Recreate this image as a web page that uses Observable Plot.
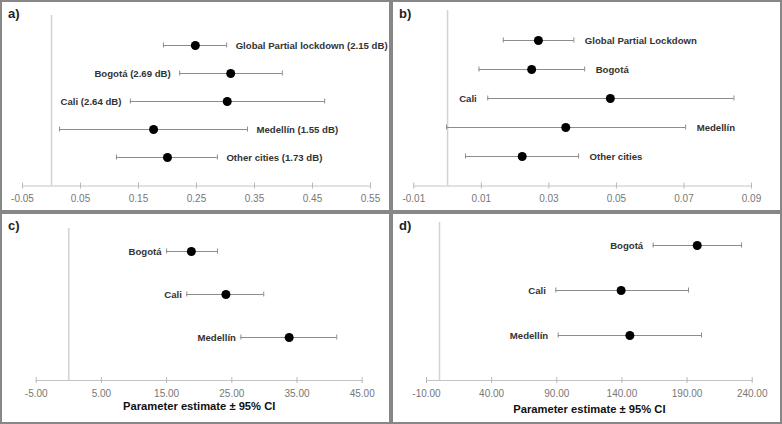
<!DOCTYPE html>
<html>
<head>
<meta charset="utf-8">
<script src="https://cdn.jsdelivr.net/npm/d3@7"></script>
<script src="https://cdn.jsdelivr.net/npm/@observablehq/plot@0.6"></script>
<style>
  html, body { margin: 0; padding: 0; background: #fff; }
  #wrap { position: relative; width: 782px; height: 424px; font-family: "Liberation Sans", Arial, sans-serif; }
  .cell { position: absolute; }
  .cell svg { position: absolute; left: 0; top: 0; }
  .border { position: absolute; box-sizing: border-box; border: 2px solid #878787; pointer-events: none; }
  .tag { position: absolute; left: 8px; top: 7px; font-weight: bold; font-size: 13px; color: #222; line-height: 1; }
</style>
</head>
<body>
<div id="wrap"></div>
<script>
// ---- Data ----
// Panel a
const aLabels = ["Global Partial lockdown (2.15 dB)", "Bogotá (2.69 dB)", "Cali (2.64 dB)", "Medellín (1.55 dB)", "Other cities (1.73 dB)"];
const aEst = [0.248, 0.309, 0.303, 0.176, 0.200];
const aLo  = [0.193, 0.221, 0.136, 0.014, 0.112];
const aHi  = [0.302, 0.398, 0.471, 0.338, 0.286];
const aTicks = [-0.05, 0.05, 0.15, 0.25, 0.35, 0.45, 0.55];
const aLeftLabeled = ["Bogotá (2.69 dB)", "Cali (2.64 dB)"];

// Panel b
const bLabels = ["Global Partial Lockdown", "Bogotá", "Cali", "Medellín", "Other cities"];
const bEst = [0.0269, 0.0249, 0.0482, 0.0350, 0.0221];
const bLo  = [0.0165, 0.0093, 0.0119, -0.0003, 0.0053];
const bHi  = [0.0374, 0.0406, 0.0848, 0.0705, 0.0388];
const bTicks = [-0.01, 0.01, 0.03, 0.05, 0.07, 0.09];
const bLeftLabeled = ["Cali"];

// Panel c
const cLabels = ["Bogotá", "Cali", "Medellín"];
const cEst = [18.8, 24.1, 33.8];
const cLo  = [15.0, 18.1, 26.4];
const cHi  = [22.8, 29.9, 41.1];
const cTicks = [-5, 5, 15, 25, 35, 45];
const cLeftLabeled = ["Bogotá", "Cali", "Medellín"];

// Panel d
const dLabels = ["Bogotá", "Cali", "Medellín"];
const dEst = [197.8, 139.4, 146.1];
const dLo  = [164.0, 89.3, 91.1];
const dHi  = [231.8, 191.1, 201.1];
const dTicks = [-10, 40, 90, 140, 190, 240];
const dLeftLabeled = ["Bogotá", "Cali", "Medellín"];

const axisTitle = "Parameter estimate ± 95% CI";

// ---- Layout ----
const W = 391, H = 212;
const panels = [
  {tag: "a)", left: 0, top: 0, labels: aLabels, est: aEst, lo: aLo, hi: aHi, ticks: aTicks, leftLabeled: aLeftLabeled,
   mt: 15, mb: 26.5, ml: 22, mr: 21, yRange: [44, 157], dx: 9, title: false},
  {tag: "b)", left: 391, top: 0, labels: bLabels, est: bEst, lo: bLo, hi: bHi, ticks: bTicks, leftLabeled: bLeftLabeled,
   mt: 10, mb: 26.5, ml: 22.3, mr: 31, yRange: [39, 156], dx: 11, title: false},
  {tag: "c)", left: 0, top: 212, labels: cLabels, est: cEst, lo: cLo, hi: cHi, ticks: cTicks, leftLabeled: cLeftLabeled,
   mt: 16, mb: 44, ml: 35.7, mr: 29.3, yRange: [38, 125], dx: 5, title: true, titleDy: 29},
  {tag: "d)", left: 391, top: 212, labels: dLabels, est: dEst, lo: dLo, hi: dHi, ticks: dTicks, leftLabeled: dLeftLabeled,
   mt: 10, mb: 44, ml: 35, mr: 30.3, yRange: [33, 123], dx: 10, title: true, titleDy: 32}
];

const wrap = document.getElementById("wrap");

for (const p of panels) {
  const rows = p.labels.map((label, i) => ({label, est: p.est[i], lo: p.lo[i], hi: p.hi[i], left: p.leftLabeled.includes(label)}));
  const marks = [
    Plot.frame({anchor: "bottom", stroke: "#c4c4c4"}),
    Plot.ruleX([0], {stroke: "#d2d2d2", strokeWidth: 1.5}),
    Plot.axisX({ticks: p.ticks, tickFormat: d => d.toFixed(2), tickSize: 6, dy: -3, tickPadding: 6,
                fontSize: 10, stroke: "#b8b8b8", fill: "#777"}),
    Plot.ruleY(rows, {y: "label", x1: "lo", x2: "hi", stroke: "#8c8c8c", strokeWidth: 1}),
    Plot.ruleX(rows, {x: "lo", y1: "label", y2: "label", stroke: "#8c8c8c", insetTop: -2.5, insetBottom: -2.5}),
    Plot.ruleX(rows, {x: "hi", y1: "label", y2: "label", stroke: "#8c8c8c", insetTop: -2.5, insetBottom: -2.5}),
    Plot.dot(rows, {x: "est", y: "label", r: 4.5, fill: "#000", stroke: "none"}),
    Plot.text(rows.filter(d => !d.left), {x: "hi", y: "label", text: "label", textAnchor: "start", dx: p.dx,
              fontSize: 9.6, fontWeight: "bold", fill: "#333"}),
    Plot.text(rows.filter(d => d.left), {x: "lo", y: "label", text: "label", textAnchor: "end", dx: -p.dx,
              fontSize: 9.6, fontWeight: "bold", fill: "#333"})
  ];
  if (p.title) {
    marks.push(Plot.text([axisTitle], {frameAnchor: "bottom", dy: p.titleDy, text: d => d,
              fontSize: 11.2, fontWeight: "bold", fill: "#111"}));
  }
  const chart = Plot.plot({
    width: W, height: H,
    marginTop: p.mt, marginBottom: p.mb, marginLeft: p.ml, marginRight: p.mr,
    style: {fontFamily: "'Liberation Sans', Arial, sans-serif", background: "transparent", overflow: "visible"},
    x: {domain: [p.ticks[0], p.ticks[p.ticks.length - 1]]},
    y: {type: "point", domain: p.labels, range: p.yRange, padding: 0, axis: null},
    marks
  });
  const cell = document.createElement("div");
  cell.className = "cell";
  cell.style.left = p.left + "px";
  cell.style.top = p.top + "px";
  cell.style.width = W + "px";
  cell.style.height = H + "px";
  cell.appendChild(chart);
  const tag = document.createElement("div");
  tag.className = "tag";
  tag.textContent = p.tag;
  cell.appendChild(tag);
  wrap.appendChild(cell);

  const b = document.createElement("div");
  b.className = "border";
  b.style.left = p.left + "px";
  b.style.top = p.top + "px";
  b.style.width = W + "px";
  b.style.height = H + "px";
  wrap.appendChild(b);
}
</script>
</body>
</html>
